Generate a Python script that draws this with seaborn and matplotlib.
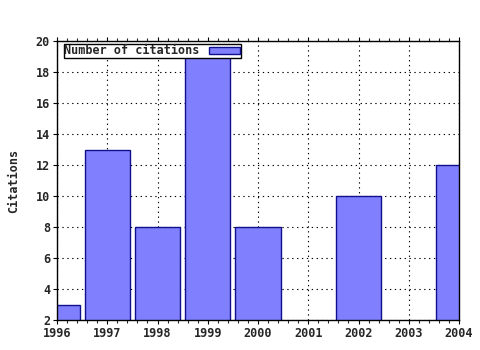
import matplotlib
matplotlib.use("Agg")
import matplotlib.pyplot as plt
import seaborn as sns
import pandas as pd
from matplotlib.ticker import MultipleLocator

years = [1996, 1997, 1998, 1999, 2000, 2001, 2002, 2003, 2004]
citations = [3, 13, 8, 19, 8, 0, 10, 0, 12]
series_label = "Number of citations"
y_label = "Citations"

sns.set_style("white")
plt.rcParams['font.family'] = ['DejaVu Sans Mono', 'DejaVu Sans']
plt.rcParams['font.weight'] = 'bold'

df = pd.DataFrame({"year": years, "citations": citations})

fig = plt.figure(figsize=(4.8, 3.5), dpi=100)
ax = fig.add_axes([57/480, 30/350, (459-57)/480, (320-41)/350])
ax.set_axisbelow(True)
ax.grid(True, which='major', color='black', linestyle=(0, (1.2, 3.2)), linewidth=0.8)

sns.barplot(data=df, x="year", y="citations", native_scale=True, width=0.9,
            color="#8080ff", saturation=1, edgecolor="#10108c", linewidth=1.0,
            label=series_label, ax=ax, zorder=2)

ax.set_xlim(1996, 2004)
ax.set_ylim(2, 20)
ax.set_xticks(years)
ax.set_xticklabels([str(y) for y in years], fontsize=8.5, fontweight='bold')
ax.set_yticks(range(2, 21, 2))
ax.set_yticklabels([str(v) for v in range(2, 21, 2)], fontsize=8.5, fontweight='bold')
ax.xaxis.set_minor_locator(MultipleLocator(0.2))
ax.set_xlabel("")
ax.set_ylabel(y_label, fontsize=8.5, fontweight='bold', labelpad=11)

for s in ax.spines.values():
    s.set_color('black')
    s.set_linewidth(1.0)
    s.set_zorder(4)
ax.tick_params(axis='both', which='major', direction='out', length=3, width=0.8, color='black', pad=2)
ax.tick_params(axis='x', which='both', top=True, bottom=True)
ax.tick_params(axis='x', which='minor', direction='out', length=2, width=0.8)
ax.tick_params(axis='y', which='both', left=True, right=False)

leg = ax.legend(loc='upper left', bbox_to_anchor=(0.017, 0.99), markerfirst=False,
                frameon=True, fancybox=False, framealpha=1, edgecolor='black',
                prop={'family': 'DejaVu Sans Mono', 'weight': 'bold', 'size': 8.5},
                borderpad=0.05, handlelength=2.6, handleheight=0.5, handletextpad=0.8,
                borderaxespad=0)
leg.get_frame().set_linewidth(1.0)
leg.set_zorder(5)

fig.savefig("out.png", dpi=100)
